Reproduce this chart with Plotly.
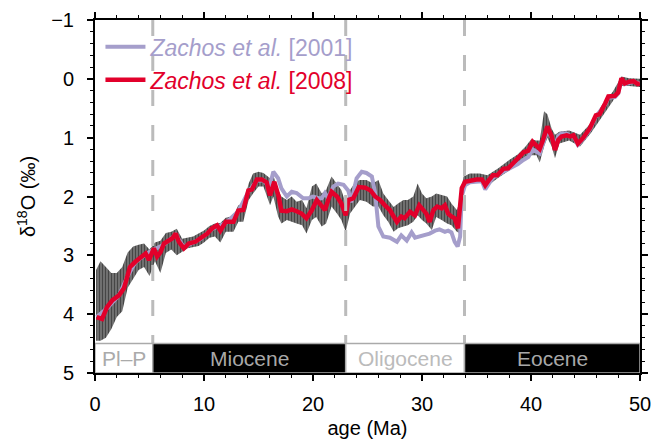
import plotly.graph_objects as go

# ---------------- data ----------------
# Zachos et al. 2008 (smoothed, red)
age_2008 = [0.15, 0.65, 1.1, 1.6, 2.2, 2.65, 2.95, 3.2, 3.7, 4.2, 4.65, 4.95, 5.4, 5.7, 6.0, 6.33, 6.8, 7.1, 7.4, 7.7,
            8.15, 8.6, 9.2, 9.7, 10.3, 10.75, 11.2, 11.5, 12.0, 12.7, 13.15, 13.6, 14.07, 14.4, 14.85, 15.3, 15.75,
            16.06, 16.45, 16.85, 17.1, 17.6, 18.05, 18.5, 18.95, 19.4, 19.9, 20.35, 20.65, 21.1, 21.4, 21.7, 22.2,
            22.6, 23.0, 23.25, 23.7, 24.2, 24.8, 25.3, 25.7, 26.15, 26.6, 27.05, 27.4, 27.7, 28.1, 28.4, 28.9, 29.35,
            29.75, 30.1, 30.4, 30.7, 31.05, 31.4, 31.8, 32.1, 32.4, 32.7, 33.0, 33.3, 33.5, 33.65, 33.95, 34.4, 35.0,
            35.5, 35.8, 36.1, 36.5, 36.9, 37.46, 37.9, 38.4, 38.8, 39.3, 39.75, 40.15, 40.5, 40.8, 41.1, 41.5, 41.9,
            42.2, 42.5, 42.8, 43.27, 43.6, 43.9, 44.3, 44.8, 45.4, 45.95, 46.3, 46.8, 47.1, 47.7, 48.0, 48.3, 48.6,
            49.0, 49.4, 49.8, 50.0]
d18o_2008 = [4.05, 4.08, 3.88, 3.76, 3.68, 3.56, 3.37, 3.2, 3.11, 3.03, 2.97, 3.08, 2.88, 3.02, 2.95, 2.8, 2.74, 2.71,
             2.63, 2.77, 2.88, 2.8, 2.77, 2.71, 2.63, 2.54, 2.49, 2.58, 2.43, 2.43, 2.24, 2.23, 1.9, 1.88, 1.71, 1.71,
             1.76, 1.98, 1.75, 2.0, 2.24, 2.25, 2.22, 2.25, 2.29, 2.37, 2.23, 2.06, 2.12, 2.23, 2.06, 1.92, 2.0, 2.12,
             2.32, 2.06, 2.03, 1.84, 1.85, 1.9, 2.0, 2.06, 2.15, 2.23, 2.34, 2.43, 2.34, 2.37, 2.26, 2.32, 2.15, 2.23,
             2.29, 2.43, 2.23, 2.17, 2.2, 2.15, 2.29, 2.34, 2.37, 2.54, 2.23, 1.86, 1.75, 1.73, 1.71, 1.71, 1.81, 1.73,
             1.64, 1.64, 1.53, 1.52, 1.41, 1.35, 1.25, 1.22, 1.07, 1.14, 1.19, 1.04, 0.81, 0.98, 1.21, 1.04, 0.98,
             0.96, 0.98, 0.96, 1.1, 1.0, 0.84, 0.62, 0.6, 0.42, 0.3, 0.29, 0.23, -0.01, 0.08, 0.05, 0.04, 0.09, 0.08]

# Zachos et al. 2001 (smoothed, lavender)
age_2001 = [0.15, 1.1, 2.2, 3.0, 3.7, 4.65, 5.4, 6.3, 7.4, 8.15, 9.7, 10.75, 12.0, 13.15, 14.07, 14.85, 15.5, 16.0,
            16.36, 16.8, 17.1, 17.6, 18.05, 18.5, 19.1, 19.57, 20.0, 20.5, 20.8, 21.1, 21.4, 21.86, 22.3, 22.8, 23.24,
            23.5, 24.0, 24.47, 24.9, 25.4, 25.7, 26.0, 26.45, 27.06, 27.7, 28.1, 28.6, 29.05, 29.36, 29.8, 30.3, 30.7,
            31.2, 31.6, 32.1, 32.4, 32.7, 33.0, 33.27, 33.5, 33.64, 33.94, 34.4, 35.0, 35.5, 35.8, 36.1, 36.5, 37.46,
            38.4, 38.8, 39.3, 39.75, 40.15, 40.5, 40.8, 41.1, 41.5, 41.9, 42.2, 42.5, 42.8, 43.27, 43.6, 43.9, 44.3,
            44.8, 45.4, 45.95, 46.8, 47.1, 47.7, 48.0, 48.3, 48.6, 49.4, 50.0]
d18o_2001 = [4.05, 3.9, 3.68, 3.35, 3.12, 2.98, 2.9, 2.82, 2.65, 2.86, 2.72, 2.55, 2.45, 2.25, 1.92, 1.73, 1.73, 1.85,
             1.58, 1.69, 1.86, 2.0, 1.92, 1.94, 2.03, 2.03, 2.0, 2.03, 2.03, 1.94, 2.03, 1.83, 1.78, 1.8, 1.9, 2.1,
             1.69, 1.58, 1.6, 1.66, 1.94, 2.51, 2.68, 2.7, 2.77, 2.66, 2.75, 2.61, 2.7, 2.68, 2.66, 2.63, 2.58, 2.56,
             2.6, 2.58, 2.61, 2.77, 2.85, 2.68, 2.0, 1.81, 1.76, 1.75, 1.74, 1.88, 1.78, 1.68, 1.58, 1.5, 1.45, 1.38,
             1.33, 1.2, 1.24, 1.27, 1.1, 0.87, 1.0, 1.15, 0.97, 0.93, 0.93, 0.97, 0.98, 1.12, 1.02, 0.86, 0.64, 0.44,
             0.32, 0.31, 0.25, 0.0, 0.09, 0.05, 0.08]

# raw benthic data: envelope of the scatter (upper = lighter, lower = heavier)
raw_age = [0.1, 0.5, 1.0, 1.5, 2.0, 2.5, 3.0, 3.5, 4.0, 4.5, 5.0, 5.5, 6.0, 6.5, 7.0, 7.5, 8.0, 8.5, 9.0, 9.5, 10.0,
           10.5, 11.0, 11.5, 12.0, 12.7, 13.15, 13.6, 14.1, 14.5, 15.0, 15.45, 16.06, 16.36, 16.8, 17.1, 17.6, 18.04,
           18.5, 19.0, 19.4, 19.9, 20.3, 20.8, 21.2, 21.7, 22.2, 22.6, 23.0, 23.4, 23.9, 24.3, 24.9, 25.5, 26.0,
           26.45, 26.9, 27.4, 27.8, 28.3, 28.7, 29.2, 29.6, 30.0, 30.4, 30.9, 31.3, 31.8, 32.3, 32.7, 33.2, 33.5,
           33.8, 34.4, 35.3, 36.0, 37.0, 38.0, 38.8, 39.5, 40.0, 40.5, 40.8, 41.2, 41.5, 41.9, 42.2, 42.6, 43.5,
           44.5, 45.5, 46.5, 47.5, 48.3, 49.0, 50.0]
raw_hi = [3.25, 3.1, 3.2, 3.3, 3.3, 3.2, 2.95, 2.85, 2.82, 2.8, 2.9, 2.78, 2.75, 2.62, 2.6, 2.55, 2.72, 2.7, 2.68, 2.63,
          2.58, 2.5, 2.46, 2.45, 2.36, 2.33, 2.15, 2.12, 1.78, 1.61, 1.58, 1.6, 1.69, 1.64, 1.89, 2.0, 2.06, 2.0, 2.09,
          2.06, 2.2, 1.83, 1.78, 1.95, 1.89, 1.66, 1.78, 1.89, 2.12, 1.89, 1.75, 1.72, 1.72, 1.78, 1.72, 1.95, 2.06,
          2.18, 2.12, 2.06, 2.06, 2.0, 1.78, 1.95, 2.03, 2.0, 1.95, 1.98, 2.0, 2.12, 2.23, 2.06, 1.66, 1.61, 1.61,
          1.64, 1.52, 1.38, 1.28, 1.15, 1.03, 1.05, 1.05, 0.55, 0.6, 0.85, 0.95, 0.9, 0.88, 0.95, 0.75, 0.45, 0.22,
          -0.04, -0.01, 0.0]
raw_lo = [4.45, 4.45, 4.4, 4.25, 4.05, 3.95, 3.55, 3.4, 3.25, 3.2, 3.35, 3.1, 3.3, 2.96, 2.9, 3.0, 2.94, 2.88, 2.86,
          2.84, 2.78, 2.7, 2.68, 2.78, 2.6, 2.6, 2.43, 2.43, 2.06, 1.95, 1.83, 1.83, 2.15, 2.0, 2.34, 2.46, 2.4, 2.43,
          2.46, 2.49, 2.63, 2.4, 2.35, 2.51, 2.46, 2.17, 2.29, 2.4, 2.6, 2.29, 2.17, 2.06, 2.09, 2.17, 2.17, 2.32,
          2.43, 2.6, 2.54, 2.51, 2.49, 2.43, 2.32, 2.4, 2.46, 2.57, 2.35, 2.4, 2.46, 2.49, 2.6, 2.63, 1.83, 1.78,
          1.75, 1.82, 1.68, 1.56, 1.45, 1.32, 1.3, 1.3, 1.42, 1.15, 1.0, 1.15, 1.35, 1.1, 1.05, 1.15, 0.92, 0.65,
          0.38, 0.12, 0.12, 0.14]

# epochs
epoch_names = ["Pl\u2013P", "Miocene", "Oligocene", "Eocene"]
epoch_bounds = [0, 5.3, 23, 33.9, 50]
epoch_fill = ["white", "black", "white", "black"]
epoch_text = ["#aaaaaa", "#a8a8a8", "#bbbbbb", "#a8a8a8"]
boundary_ages = [5.3, 23, 33.9]

x_ticks = [0, 10, 20, 30, 40, 50]
y_ticks = [-1, 0, 1, 2, 3, 4, 5]

FONT = "Liberation Sans, Arial, Helvetica, sans-serif"
RED = "#e2002b"
LAV = "#a59ecb"

fig = go.Figure()

# raw scatter envelope
fig.add_trace(go.Scatter(
    x=raw_age + raw_age[::-1], y=raw_hi + raw_lo[::-1],
    fill="toself", mode="lines", line=dict(width=0, color="black"),
    fillcolor="rgba(0,0,0,0.5)",
    fillpattern=dict(shape="|", fgcolor="black", bgcolor="rgba(0,0,0,0.45)", size=3, solidity=0.6),
    showlegend=False, hoverinfo="skip"))

fig.add_trace(go.Scatter(
    x=age_2001, y=d18o_2001, mode="lines",
    line=dict(color=LAV, width=4),
    name="<span style='color:%s'><i>Zachos et al.</i> [2001]</span>" % LAV))
fig.add_trace(go.Scatter(
    x=age_2008, y=d18o_2008, mode="lines",
    line=dict(color=RED, width=4.5),
    name="<span style='color:%s'><i>Zachos et al.</i> [2008]</span>" % RED))

# boundary dashed lines
for a in boundary_ages:
    fig.add_shape(type="line", x0=a, x1=a, y0=-1, y1=4.5, xref="x", yref="y",
                  line=dict(color="#bbbbbb", width=3, dash="16px,19px"), layer="above")

# epoch band
for i, name in enumerate(epoch_names):
    x0, x1 = epoch_bounds[i], epoch_bounds[i + 1]
    fig.add_shape(type="rect", x0=x0, x1=x1, y0=4.5, y1=5, xref="x", yref="y",
                  fillcolor=epoch_fill[i],
                  line=dict(color="#aaaaaa", width=1.5), layer="above")
    fig.add_annotation(x=(x0 + x1) / 2, y=4.75, xref="x", yref="y", text=name,
                       showarrow=False, font=dict(family=FONT, size=21, color=epoch_text[i]))

axis_common = dict(showline=True, linecolor="black", linewidth=2, mirror="allticks",
                   ticks="outside", tickcolor="black", tickwidth=1.5, ticklen=6,
                   showgrid=False, zeroline=False, automargin=False,
                   tickfont=dict(family=FONT, size=20, color="black"))

fig.update_xaxes(range=[0, 50], tickvals=x_ticks,
                 minor=dict(ticks="outside", ticklen=3, tickcolor="black", dtick=2, tickwidth=1),
                 title=dict(text="age (Ma)", font=dict(family=FONT, size=20, color="black"), standoff=7),
                 ticklabelstandoff=6, **axis_common)
fig.update_yaxes(range=[5, -1], tickvals=y_ticks,
                 minor=dict(ticks="outside", ticklen=3, tickcolor="black", dtick=0.2, tickwidth=1),
                 title=dict(text="\u03b4<sup>18</sup>O (\u2030)", font=dict(family=FONT, size=20, color="black"),
                            standoff=10),
                 ticklabelstandoff=9, **axis_common)

fig.update_layout(
    width=653, height=443,
    margin=dict(l=95, r=13, t=20, b=70),
    paper_bgcolor="white", plot_bgcolor="white",
    font=dict(family=FONT, size=20, color="black"),
    legend=dict(x=0.01, y=0.985, xanchor="left", yanchor="top", bgcolor="rgba(0,0,0,0)",
                font=dict(family=FONT, size=23), itemwidth=40, tracegroupgap=0),
)

fig.write_html("out.html")
